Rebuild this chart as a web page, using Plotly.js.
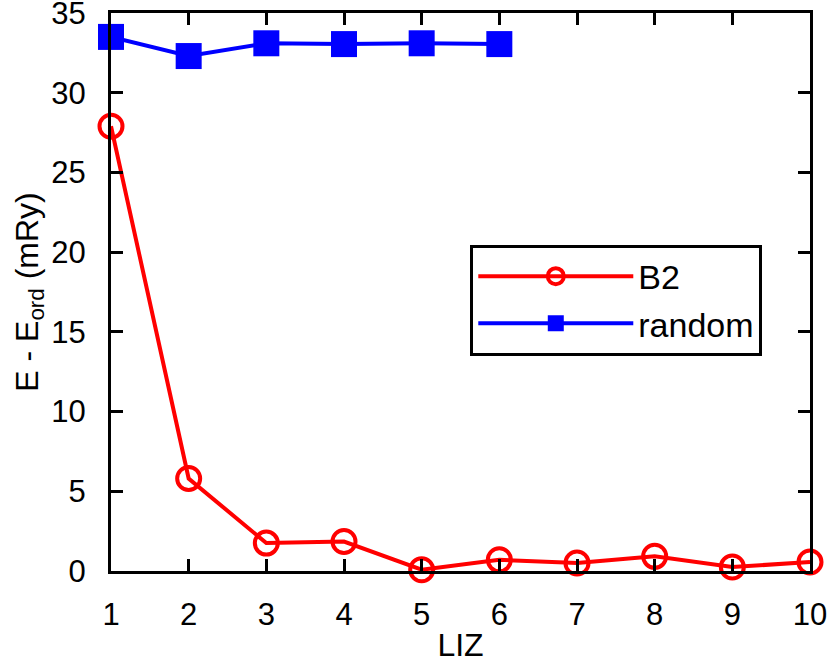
<!DOCTYPE html>
<html>
<head>
<meta charset="utf-8">
<script src="https://cdn.plot.ly/plotly-3.0.1.min.js"></script>
<style>html,body{margin:0;padding:0;background:#fff;}#chart{width:830px;height:663px;}</style>
</head>
<body>
<div id="chart"></div>
<script>
const liz = [1, 2, 3, 4, 5, 6, 7, 8, 9, 10];
const b2Values = [27.9, 5.8, 1.75, 1.85, 0.08, 0.7, 0.5, 0.92, 0.25, 0.56];
const randomLiz = [1, 2, 3, 4, 5, 6];
const randomValues = [33.5, 32.3, 33.1, 33.05, 33.1, 33.05];
const xTicks = [1, 2, 3, 4, 5, 6, 7, 8, 9, 10];
const yTicks = [0, 5, 10, 15, 20, 25, 30, 35];

const font = {family: 'Liberation Sans, Arial, sans-serif', color: '#000'};

const traces = [
  {
    x: liz, y: b2Values, name: 'B2', mode: 'lines+markers', cliponaxis: false,
    line: {color: '#ff0000', width: 4},
    marker: {symbol: 'circle-open', size: 23, color: '#ff0000', line: {width: 4, color: '#ff0000'}}
  },
  {
    x: randomLiz, y: randomValues, name: 'random', mode: 'lines+markers', cliponaxis: false,
    line: {color: '#0000ff', width: 4},
    marker: {symbol: 'square', size: 26, color: '#0000ff'}
  }
];

const axisCommon = {
  showgrid: false, zeroline: false, showline: true, linecolor: '#000', linewidth: 3,
  mirror: 'ticks', ticks: 'inside', ticklen: 12, tickwidth: 3, tickcolor: '#000',
  ticklabeloverflow: 'allow',
  tickfont: Object.assign({size: 31}, font)
};

const layout = {
  width: 830, height: 663,
  margin: {l: 111, r: 20, t: 13, b: 92},
  paper_bgcolor: '#fff', plot_bgcolor: '#fff',
  showlegend: true,
  legend: {
    x: 0.514, y: 0.585, xanchor: 'left', yanchor: 'top',
    bordercolor: '#000', borderwidth: 3, bgcolor: '#fff',
    font: Object.assign({size: 34}, font),
    itemwidth: 155, tracegroupgap: 0
  },
  xaxis: Object.assign({}, axisCommon, {
    range: [1, 10], tickvals: xTicks, ticktext: xTicks.map(String),
    ticklabelstandoff: 14,
    title: {text: 'LIZ', font: Object.assign({size: 32}, font), standoff: 4}
  }),
  yaxis: Object.assign({}, axisCommon, {
    range: [0, 35], tickvals: yTicks, ticktext: yTicks.map(String),
    ticklabelstandoff: 16,
    title: {text: 'E - E<sub>ord</sub> (mRy)', font: Object.assign({size: 32}, font), standoff: 4}
  })
};

Plotly.newPlot('chart', traces, layout, {displayModeBar: false, staticPlot: true});
</script>
</body>
</html>
